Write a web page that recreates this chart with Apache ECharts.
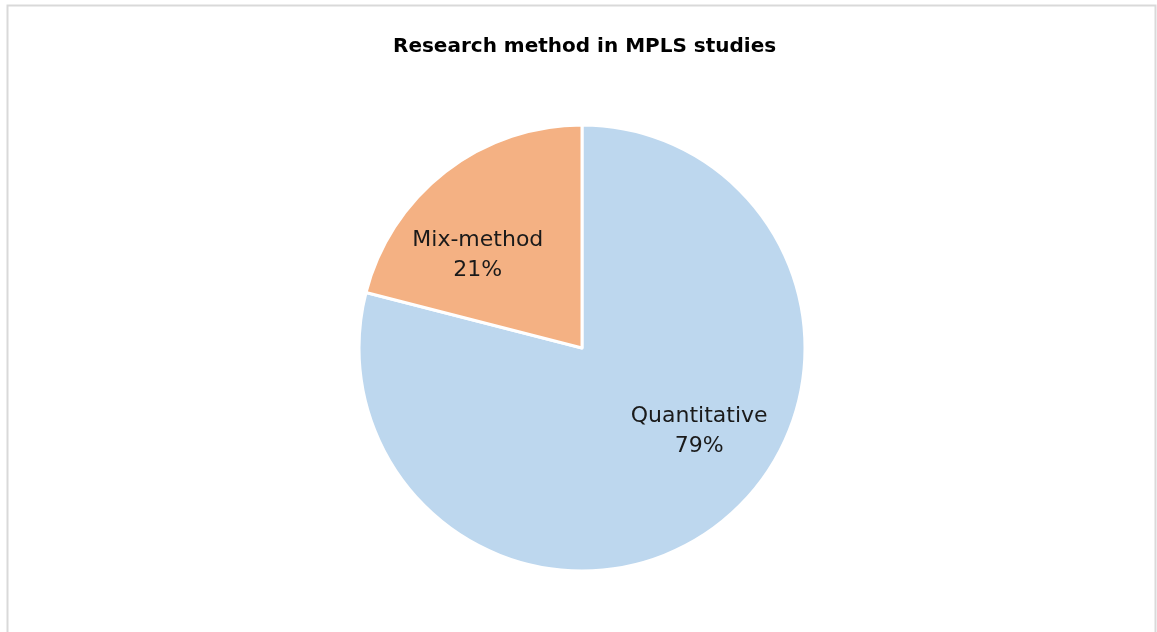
<!DOCTYPE html>
<html>
<head>
<meta charset="utf-8">
<script src="https://cdn.jsdelivr.net/npm/echarts@6/dist/echarts.min.js"></script>
<style>
  html, body { margin: 0; padding: 0; background: #fff; }
  #piechart { width: 1157px; height: 632px; }
</style>
</head>
<body>
<div id="piechart"></div>
<script>
// data
const categories = ['Quantitative', 'Mix-method'];
const shares = [79, 21];
const sliceColors = ['#BDD7EE', '#F4B183'];
const labelOffsets = [[47, -7], [-34, -2]];

const pieData = categories.map((name, i) => ({
  name: name,
  value: shares[i],
  itemStyle: { color: sliceColors[i] },
  label: { offset: labelOffsets[i] }
}));

let myChart = echarts.init(document.getElementById('piechart'));
let option = {
  animation: false,
  title: {
    text: 'Research method in MPLS studies',
    left: 388,
    top: 32,
    textStyle: {
      fontFamily: 'DejaVu Sans',
      fontWeight: 'bold',
      fontSize: 20,
      color: '#000'
    }
  },
  graphic: [{
    type: 'rect',
    shape: { x: 7.5, y: 5.5, width: 1148, height: 700 },
    style: { fill: 'none', stroke: '#d9d9d9', lineWidth: 2 },
    silent: true
  }],
  series: [{
    type: 'pie',
    center: [582, 348],
    radius: [0, 223],
    startAngle: 90,
    clockwise: true,
    itemStyle: { borderColor: '#fff', borderWidth: 3 },
    label: {
      show: true,
      position: 'inside',
      formatter: '{b}\n{c}%',
      fontFamily: 'DejaVu Sans',
      fontSize: 22,
      lineHeight: 30,
      color: '#1a1a1a'
    },
    labelLine: { show: false },
    emphasis: { disabled: true },
    data: pieData
  }]
};
myChart.setOption(option);
</script>
</body>
</html>
